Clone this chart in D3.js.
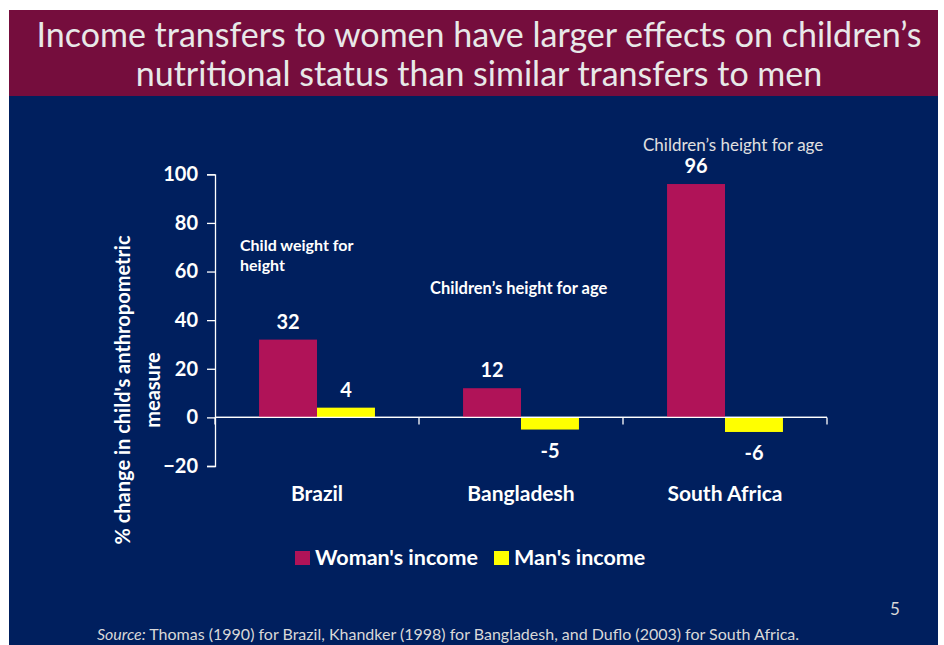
<!DOCTYPE html>
<html>
<head>
  <meta charset="UTF-8">
  <style>
    body { margin: 0; background: #fff; }
    svg { display: block; font-family: Lato, "Open Sans", sans-serif; }
  </style>
</head>
<body>
<svg></svg>
<script src="https://d3js.org/d3.v7.min.js"></script>
<script>

let width = 944, height = 645;

// data
const countries = ["Brazil", "Bangladesh", "South Africa"];
const seriesNames = ["Woman's income", "Man's income"];
const womanIncome = [32, 12, 96];
const manIncome = [4, -5, -6];
const yTicks = [-20, 0, 20, 40, 60, 80, 100];
const colors = ["#B01358", "#FFFF00"];

let svg = d3.select("svg")
    .attr("width", width)
    .attr("height", height)

// background panels
svg.append("rect")
    .attr("x", 9).attr("y", 96)
    .attr("width", 929).attr("height", height - 96)
    .attr("fill", "#001F5E")
svg.append("rect")
    .attr("x", 9).attr("y", 10)
    .attr("width", 929).attr("height", 86)
    .attr("fill", "#750D3D")

// title
let title = svg.append("text")
    .attr("text-anchor", "middle")
    .attr("fill", "#E8E8E8")
    .style("font-size", "34px")
title.append("tspan").attr("x", 479).attr("y", 47).text("Income transfers to women have larger effects on children\u2019s")
title.append("tspan").attr("x", 479).attr("y", 86).text("nutritional status than similar transfers to men")

// scales
const margin = {left: 215, right: 827, top: 174.3, bottom: 466};
let x = d3.scaleBand()
    .domain(countries)
    .range([margin.left, margin.right])
    .paddingInner(0)
    .paddingOuter(0)
let xInner = d3.scaleBand()
    .domain(seriesNames)
    .range([0, x.bandwidth()])
    .paddingInner(0)
    .paddingOuter(0.76)
let y = d3.scaleLinear()
    .domain([-20, 100])
    .range([margin.bottom, margin.top])

// y axis
let yAxis = svg.append("g")
    .attr("transform", `translate(${margin.left},0)`)
    .call(d3.axisLeft(y).tickValues(yTicks).tickSize(8).tickPadding(9))
yAxis.selectAll("path, line").attr("stroke", "#fff").attr("stroke-width", 1.3)
yAxis.selectAll("text")
    .attr("fill", "#fff")
    .style("font-size", "20px")
    .style("font-weight", "bold")
    .style("font-family", "Lato, sans-serif")

// x axis at zero
let xAxis = svg.append("g")
    .attr("transform", `translate(0,${y(0)})`)
xAxis.append("line")
    .attr("x1", margin.left).attr("x2", margin.right)
    .attr("stroke", "#fff").attr("stroke-width", 1.3)
xAxis.selectAll(".tick")
    .data(countries.map((c, i) => x(c) + x.bandwidth()).concat([margin.left]))
    .enter()
    .append("line")
    .attr("x1", d => d).attr("x2", d => d)
    .attr("y1", 0).attr("y2", 7)
    .attr("stroke", "#fff").attr("stroke-width", 1.3)

// category labels
svg.append("g")
    .selectAll("text")
    .data(countries)
    .enter()
    .append("text")
    .attr("x", d => x(d) + x.bandwidth() / 2)
    .attr("y", 501)
    .attr("text-anchor", "middle")
    .attr("fill", "#fff")
    .style("font-size", "21px")
    .style("font-weight", "bold")
    .text(d => d)

// bars
let rows = [];
countries.forEach((c, i) => {
    rows.push({country: c, series: seriesNames[0], value: womanIncome[i], color: colors[0]});
    rows.push({country: c, series: seriesNames[1], value: manIncome[i], color: colors[1]});
});

svg.append("g")
    .selectAll("rect")
    .data(rows)
    .enter()
    .append("rect")
    .attr("x", d => x(d.country) + xInner(d.series))
    .attr("width", xInner.bandwidth())
    .attr("y", d => y(Math.max(0, d.value)))
    .attr("height", d => Math.abs(y(d.value) - y(0)))
    .attr("fill", d => d.color)

// redraw zero line over bars
svg.append("line")
    .attr("x1", margin.left).attr("x2", margin.right)
    .attr("y1", y(0)).attr("y2", y(0))
    .attr("stroke", "#fff").attr("stroke-width", 1.3)

// value labels
svg.append("g")
    .selectAll("text")
    .data(rows)
    .enter()
    .append("text")
    .attr("x", d => x(d.country) + xInner(d.series) + xInner.bandwidth() / 2)
    .attr("y", d => d.value >= 0 ? y(d.value) - 11 : y(d.value) + 28)
    .attr("text-anchor", "middle")
    .attr("fill", "#fff")
    .style("font-size", "20px")
    .style("font-weight", "bold")
    .text(d => d.value)

// annotations
let note1 = svg.append("text")
    .attr("fill", "#fff")
    .style("font-size", "16px")
    .style("font-weight", "bold")
note1.append("tspan").attr("x", 240).attr("y", 251).text("Child weight for")
note1.append("tspan").attr("x", 240).attr("y", 271).text("height")

svg.append("text")
    .attr("x", 430).attr("y", 294)
    .attr("fill", "#fff")
    .style("font-size", "16.5px")
    .style("font-weight", "bold")
    .text("Children\u2019s height for age")

svg.append("text")
    .attr("x", 643).attr("y", 151)
    .attr("fill", "#E0E0E0")
    .style("font-size", "17px")
    .text("Children\u2019s height for age")

// y axis title
let yTitle = svg.append("text")
    .attr("transform", "translate(0,390) rotate(-90)")
    .attr("text-anchor", "middle")
    .attr("fill", "#fff")
    .style("font-size", "20px")
    .style("font-weight", "bold")
yTitle.append("tspan").attr("x", 0).attr("y", 130).text("% change in child's anthropometric")
yTitle.append("tspan").attr("x", 0).attr("y", 160).text("measure")

// legend
let legend = svg.append("g")
    .selectAll("g")
    .data(seriesNames)
    .enter()
    .append("g")
    .attr("transform", (d, i) => `translate(${[295, 494][i]},551)`)
legend.append("rect")
    .attr("width", 15).attr("height", 14)
    .attr("fill", (d, i) => colors[i])
legend.append("text")
    .attr("x", 20).attr("y", 14)
    .attr("fill", "#fff")
    .style("font-size", "21.5px")
    .style("font-weight", "bold")
    .text(d => d)

// page number and source
svg.append("text")
    .attr("x", 895).attr("y", 615)
    .attr("text-anchor", "middle")
    .attr("fill", "#D8D8D8")
    .style("font-size", "17px")
    .text("5")

let source = svg.append("text")
    .attr("x", 448).attr("y", 640)
    .attr("text-anchor", "middle")
    .attr("fill", "#D8D8D8")
    .style("font-size", "16px")
source.append("tspan").style("font-style", "italic").text("Source:")
source.append("tspan").text(" Thomas (1990) for Brazil, Khandker (1998) for Bangladesh, and Duflo (2003) for South Africa.")

</script>
</body>
</html>
